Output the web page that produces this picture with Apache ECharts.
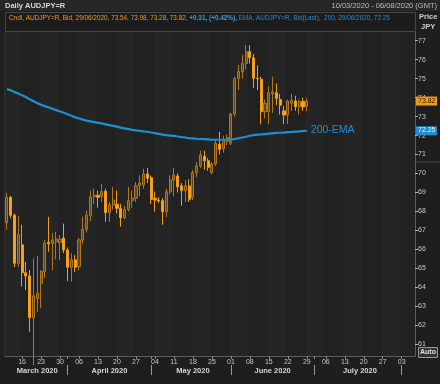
<!DOCTYPE html>
<html><head><meta charset="utf-8">
<script src="https://cdn.jsdelivr.net/npm/echarts@6/dist/echarts.min.js"></script>
<style>html,body{margin:0;padding:0;background:#1e1e1e;}#c{width:440px;height:384px;}</style>
</head><body><div id="c"></div>
<script>
// ---- data ----
const dates = [
'2020-03-10','2020-03-11','2020-03-12','2020-03-13',
'2020-03-16','2020-03-17','2020-03-18','2020-03-19','2020-03-20',
'2020-03-23','2020-03-24','2020-03-25','2020-03-26','2020-03-27',
'2020-03-30','2020-03-31','2020-04-01','2020-04-02','2020-04-03',
'2020-04-06','2020-04-07','2020-04-08','2020-04-09','2020-04-10',
'2020-04-13','2020-04-14','2020-04-15','2020-04-16','2020-04-17',
'2020-04-20','2020-04-21','2020-04-22','2020-04-23','2020-04-24',
'2020-04-27','2020-04-28','2020-04-29','2020-04-30','2020-05-01',
'2020-05-04','2020-05-05','2020-05-06','2020-05-07','2020-05-08',
'2020-05-11','2020-05-12','2020-05-13','2020-05-14','2020-05-15',
'2020-05-18','2020-05-19','2020-05-20','2020-05-21','2020-05-22',
'2020-05-25','2020-05-26','2020-05-27','2020-05-28','2020-05-29',
'2020-06-01','2020-06-02','2020-06-03','2020-06-04','2020-06-05',
'2020-06-08','2020-06-09','2020-06-10','2020-06-11','2020-06-12',
'2020-06-15','2020-06-16','2020-06-17','2020-06-18','2020-06-19',
'2020-06-22','2020-06-23','2020-06-24','2020-06-25','2020-06-26',
'2020-06-29','2020-06-30','2020-07-01','2020-07-02','2020-07-03',
'2020-07-06','2020-07-07','2020-07-08','2020-07-09','2020-07-10',
'2020-07-13','2020-07-14','2020-07-15','2020-07-16','2020-07-17',
'2020-07-20','2020-07-21','2020-07-22','2020-07-23','2020-07-24',
'2020-07-27','2020-07-28','2020-07-29','2020-07-30','2020-07-31',
'2020-08-03','2020-08-04','2020-08-05','2020-08-06'];

const opens = [67.40,68.75,67.80,65.27,66.24,64.77,64.60,62.40,63.40,64.22,
64.83,66.38,66.30,66.40,66.36,66.60,65.97,65.06,65.45,65.10,
66.50,67.06,67.80,68.78,68.85,68.80,69.07,67.94,68.35,68.38,
68.17,67.67,68.10,68.57,68.70,69.35,69.40,69.98,69.78,68.70,
68.60,68.57,67.99,69.04,69.66,69.87,69.35,69.10,69.35,68.75,
70.04,70.40,70.90,70.67,70.05,70.50,71.55,71.30,71.70,71.60,
73.14,75.00,75.37,75.80,76.42,76.10,75.02,74.97,73.26,73.26,
74.20,74.26,73.90,73.30,73.08,73.70,73.82,73.52,73.80,73.54];
const highs = [68.99,68.82,67.90,67.76,67.30,65.35,64.92,65.53,65.65,64.92,
66.50,67.72,66.87,66.93,66.76,67.36,66.10,65.80,65.70,66.60,
67.72,68.05,69.10,69.20,69.10,69.45,69.20,68.50,69.30,69.10,
68.40,68.30,69.30,69.10,69.55,69.90,70.25,70.30,69.90,69.05,
68.75,68.70,69.20,69.90,70.30,70.00,69.50,69.65,69.70,70.20,
70.60,71.20,71.20,70.80,70.60,71.80,72.20,72.00,72.05,73.20,
75.10,75.72,76.25,76.77,76.77,76.30,75.70,75.10,73.90,74.60,
75.10,74.75,74.20,73.55,73.90,74.20,74.10,73.90,74.00,73.98];
const lows = [67.02,67.64,65.07,65.07,64.04,63.86,61.66,59.90,62.70,62.90,
64.50,65.88,64.90,65.48,65.44,65.80,64.33,64.30,64.80,64.90,
66.30,66.90,67.50,68.40,68.20,68.50,67.45,67.45,68.10,67.90,
67.20,67.60,68.00,68.20,68.50,68.80,69.20,69.50,68.40,67.99,
68.45,67.30,67.70,68.90,68.80,69.00,68.30,68.50,68.50,68.60,
69.80,70.30,70.20,70.15,69.95,70.40,71.00,71.10,71.50,71.50,
73.00,74.40,75.00,75.50,75.80,74.50,74.40,72.60,72.90,72.60,
73.20,73.60,73.10,72.60,72.60,73.30,73.30,73.10,73.30,73.28];
const closes = [68.76,67.80,65.27,66.77,64.77,64.60,62.40,63.55,63.70,64.83,
66.33,66.30,66.50,66.55,66.54,65.97,65.06,65.45,65.06,66.50,
67.06,67.80,68.78,68.85,68.75,69.05,67.94,68.35,68.60,68.17,
67.67,68.10,68.57,68.70,69.35,69.50,69.98,69.75,68.64,68.60,
68.55,67.99,69.04,69.66,69.92,69.30,69.10,69.35,68.64,70.04,
70.40,70.98,70.67,70.33,70.50,71.60,71.27,71.80,71.90,73.14,
75.00,75.37,75.81,76.42,76.10,75.02,75.00,73.26,73.70,74.26,
74.30,73.96,73.60,73.08,73.82,73.85,73.52,73.80,73.51,73.82];
const ema200 = [74.45,74.39,74.29,74.22,74.13,74.03,73.91,73.81,73.71,73.62,
73.55,73.48,73.41,73.34,73.27,73.20,73.12,73.04,72.96,72.90,
72.84,72.79,72.75,72.71,72.67,72.64,72.59,72.55,72.51,72.47,
72.42,72.38,72.34,72.30,72.27,72.25,72.22,72.20,72.16,72.13,
72.09,72.05,72.02,72.00,71.98,71.95,71.92,71.90,71.86,71.85,
71.83,71.82,71.81,71.80,71.78,71.78,71.78,71.78,71.78,71.79,
71.82,71.86,71.90,71.94,71.99,72.02,72.05,72.06,72.08,72.10,
72.12,72.14,72.15,72.16,72.18,72.19,72.21,72.22,72.24,72.25];
const monthNames = ['March 2020','April 2020','May 2020','June 2020','July 2020'];
const yTicksMin = 61, yTicksMax = 77;
const yViewMin = 60.383, yViewMax = 77.4585;

// ---- helpers ----
const isMonday = dates.map(d => new Date(d + 'T00:00:00Z').getUTCDay() === 1);
const monthStart = dates.map((d, i) => i > 0 && d.slice(5, 7) !== dates[i - 1].slice(5, 7));
const starts = [-0.5];
monthStart.forEach((m, i) => { if (m) starts.push(i); });
const monthLabelIdx = {};
for (let k = 0; k < monthNames.length; k++) {
  monthLabelIdx[Math.round((starts[k] + starts[k + 1]) / 2 + 0.01)] = monthNames[k];
}
const candles = opens.map((o, i) => [o, closes[i], lows[i], highs[i]]);

const chart = echarts.init(document.getElementById('c'), null, {renderer: 'canvas'});
const FONT = 'Liberation Sans';
chart.setOption({
  animation: false,
  backgroundColor: '#1e1e1e',
  textStyle: {fontFamily: FONT},
  grid: [
    {left: 5, right: 25, top: 32, bottom: 28, show: true, backgroundColor: '#222222', borderColor: '#454545', borderWidth: 1},
    {left: 5, right: 25, top: 40.7, bottom: 39.7, show: false}
  ],
  xAxis: [
    {type: 'category', gridIndex: 0, data: dates, boundaryGap: true,
      axisLine: {show: true, lineStyle: {color: '#5c5c5c'}},
      axisTick: {show: true, alignWithLabel: true, interval: i => isMonday[i] || monthStart[i], length: 3, lineStyle: {color: '#8a8a8a'}},
      axisLabel: {interval: i => isMonday[i], formatter: v => v.slice(8, 10), color: '#c8c8c8', fontSize: 7, margin: 3, fontFamily: FONT},
      splitArea: {show: true, interval: i => isMonday[i], areaStyle: {color: ['#252525', '#212121']}},
      splitLine: {show: false}},
    {type: 'category', gridIndex: 0, data: dates, position: 'bottom', offset: 9, boundaryGap: true,
      axisLine: {show: false},
      axisTick: {show: true, alignWithLabel: true, interval: i => monthStart[i], length: 10, lineStyle: {color: '#9a9a9a'}},
      axisLabel: {interval: i => monthLabelIdx[i] !== undefined, formatter: (v, i) => monthLabelIdx[i] || '', color: '#d4d4d4', fontSize: 7.5, fontWeight: 'bold', margin: 2, fontFamily: FONT},
      splitLine: {show: false}},
    {type: 'category', gridIndex: 1, data: dates, show: false}
  ],
  yAxis: [
    {type: 'value', gridIndex: 0, min: yViewMin, max: yViewMax, position: 'right',
      axisLine: {show: true, lineStyle: {color: '#5c5c5c'}}, axisTick: {show: false}, axisLabel: {show: false}, splitLine: {show: false}},
    {type: 'value', gridIndex: 1, min: yTicksMin, max: yTicksMax, interval: 1, position: 'right',
      axisLine: {show: false}, axisTick: {show: true, length: 3, lineStyle: {color: '#b0b0b0'}},
      axisLabel: {color: '#c8c8c8', fontSize: 7, margin: 3, fontFamily: FONT}, splitLine: {show: false}}
  ],
  series: [
    {type: 'candlestick', xAxisIndex: 0, yAxisIndex: 0, data: candles, barWidth: 2.6, z: 3,
      itemStyle: {color: 'rgba(150,98,22,0.55)', color0: '#fca41c', borderColor: '#b4761a', borderColor0: '#f39c1a', borderWidth: 1}},
    {type: 'line', xAxisIndex: 0, yAxisIndex: 0, data: ema200, showSymbol: false, smooth: false, z: 4,
      lineStyle: {color: '#1f8fd4', width: 2.2}}
  ]
});

// overlay graphics using library coordinates
const n = closes.length - 1;
const yClose = chart.convertToPixel({yAxisIndex: 0}, closes[n]);
const yEma = chart.convertToPixel({yAxisIndex: 0}, ema200[n]);
const pEma = chart.convertToPixel({seriesIndex: 1}, [n, ema200[n]]);
chart.setOption({
  graphic: [
    {type: 'rect', shape: {x: 0, y: 0, width: 440, height: 11}, style: {fill: '#272727'}, z: 10},
    {type: 'text', left: 5, top: 2, style: {text: 'Daily AUDJPY=R', fill: '#d6d6d6', font: 'bold 7.5px ' + FONT}, z: 11},
    {type: 'text', right: 3, top: 2, style: {text: '10/03/2020 - 06/08/2020 (GMT)', fill: '#bdbdbd', font: '7.5px ' + FONT}, z: 11},
    {type: 'rect', shape: {x: 5.5, y: 12.5, width: 410, height: 19}, style: {fill: '#1c1c1c', stroke: '#464646', lineWidth: 1}, z: 10},
    {type: 'text', x: 9, y: 15, style: {
      rich: {o: {fill: '#f39c1a', font: '6.4px ' + FONT}, b: {fill: '#2aa5ea', font: 'bold 6.4px ' + FONT}, c: {fill: '#1f8fd4', font: '6.4px ' + FONT}},
      text: '{o|Cndl, AUDJPY=R, Bid, 29/06/2020, 73.54, 73.98, 73.28, 73.82, }{b|+0.31, (+0.42%),}{c| EMA, AUDJPY=R, Bid(Last),  200, 29/06/2020, 72.25}'}, z: 11},
    {type: 'text', x: 419, y: 13, style: {text: 'Price', fill: '#d0d0d0', font: 'bold 7.5px ' + FONT}, z: 11},
    {type: 'text', x: 421, y: 23, style: {text: 'JPY', fill: '#d0d0d0', font: 'bold 7.5px ' + FONT}, z: 11},
    {type: 'line', shape: {x1: 415, y1: 162, x2: 440, y2: 162}, style: {stroke: '#4a4a4a', lineWidth: 1}, z: 11},
    {type: 'rect', shape: {x: 416, y: yClose - 4.5, width: 21, height: 9}, style: {fill: '#f39c12'}, z: 12},
    {type: 'text', x: 418, y: yClose - 3.8, style: {text: closes[n].toFixed(2), fill: '#2a1a00', font: '7px ' + FONT}, z: 13},
    {type: 'rect', shape: {x: 416, y: yEma - 4.5, width: 21, height: 9}, style: {fill: '#1f8fd4'}, z: 12},
    {type: 'text', x: 418, y: yEma - 3.8, style: {text: ema200[n].toFixed(2), fill: '#e8f4ff', font: '7px ' + FONT}, z: 13},
    {type: 'text', x: pEma[0] + 4, y: pEma[1] - 6, style: {text: '200-EMA', fill: '#1f8fd4', font: '10.5px ' + FONT}, z: 13},
    {type: 'rect', shape: {x: 418.5, y: 347.5, width: 19, height: 10}, style: {fill: '#333', stroke: '#9a9a9a', lineWidth: 1}, z: 12},
    {type: 'text', x: 420, y: 349, style: {text: 'Auto', fill: '#e0e0e0', font: 'bold 7px ' + FONT}, z: 13}
  ]
});
</script></body></html>
